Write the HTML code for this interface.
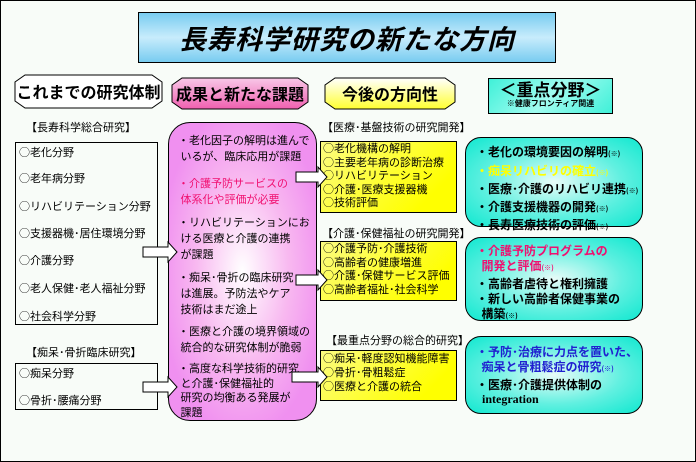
<!DOCTYPE html>
<html><head><meta charset="utf-8">
<style>
*{margin:0;padding:0;box-sizing:border-box}
body{width:696px;height:462px;background:#f8fcf8;position:relative;overflow:hidden;font-family:"Noto Sans CJK JP","Liberation Sans",sans-serif;color:#000}
.frame{position:absolute;left:0;top:0;width:696px;height:462px;border:1px solid #000}
.a{position:absolute}
.t{font-size:11px;line-height:13px;white-space:nowrap}
.title{left:138px;top:12px;width:418px;height:51px;border:1px solid #000;background:linear-gradient(180deg,#78ccf0 0%,#c8ecfc 50%,#78ccf0 100%);text-align:center;font-size:27px;line-height:50px;font-style:italic;font-weight:bold;letter-spacing:1px}
.hdr{font-size:16px;line-height:30px;text-align:center;font-weight:bold}
.lbox{border:1px solid #000;background:#f8fcf8}
.pink{left:168px;top:122px;width:149px;height:299px;border:1px solid #000;border-radius:22px;background:radial-gradient(ellipse at 50% 50%,#fff 0%,#f8b8f0 45%,#f090f0 80%)}
.yb{border:1px solid #000;background:linear-gradient(135deg,#fcfc80,#ffff00 80%)}
.tb{border:1px solid #000;border-radius:16px;background:radial-gradient(ellipse at 50% 50%,#e8fcf8 0%,#60f0e0 55%,#10e8d0 100%)}
.tb div{font-size:12px;line-height:15px;font-weight:bold;white-space:nowrap}
</style></head><body>
<div class="frame"></div>
<div class="a title">長寿科学研究の新たな方向</div>

<svg class="a" style="left:0;top:0" width="696" height="462">
<polygon points="25,75 152,75 162,82 162,101 152,108 25,108 15,101 15,82" fill="#fff" stroke="#000"/>
<defs>
<linearGradient id="pg" x1="0" y1="0" x2="0" y2="1"><stop offset="0" stop-color="#f8c8e8"/><stop offset="1" stop-color="#f060b0"/></linearGradient>
<linearGradient id="yg" x1="0" y1="0" x2="0" y2="1"><stop offset="0" stop-color="#fff"/><stop offset="1" stop-color="#ffff30"/></linearGradient>
</defs>
<polygon points="182,78 298,78 308,85 308,102 298,109 182,109 172,102 172,85" fill="url(#pg)" stroke="#000"/>
<polygon points="335,78 445,78 455,85 455,102 445,109 335,109 325,102 325,85" fill="url(#yg)" stroke="#000"/>
</svg>
<div class="a hdr" style="left:15px;top:76px;width:147px;">これまでの研究体制</div>
<div class="a hdr" style="left:172px;top:78px;width:136px;">成果と新たな課題</div>
<div class="a hdr" style="left:325px;top:78px;width:130px;">今後の方向性</div>
<div class="a" style="left:488px;top:78px;width:125px;height:36px;border:1px solid #000;background:linear-gradient(135deg,#40f0d8,#a0fcf0 50%,#40f0d8);text-align:center">
<div style="font-size:17px;line-height:20px;font-weight:bold">＜重点分野＞</div>
<div style="font-size:8px;line-height:10px;font-weight:bold">※健康フロンティア関連</div></div>

<div class="a t" style="left:26px;top:121px">【長寿科学総合研究】</div>
<div class="a lbox" style="left:15px;top:142px;width:143px;height:183px"></div>
<div class="a t" style="left:19px;top:146px">○老化分野</div>
<div class="a t" style="left:19px;top:172px">○老年病分野</div>
<div class="a t" style="left:19px;top:200px">○リハビリテーション分野</div>
<div class="a t" style="left:19px;top:227px">○支援器機･居住環境分野</div>
<div class="a t" style="left:19px;top:254px">○介護分野</div>
<div class="a t" style="left:19px;top:282px">○老人保健･老人福祉分野</div>
<div class="a t" style="left:19px;top:310px">○社会科学分野</div>
<div class="a t" style="left:26px;top:346px">【痴呆･骨折臨床研究】</div>
<div class="a lbox" style="left:15px;top:363px;width:143px;height:47px"></div>
<div class="a t" style="left:19px;top:367px">○痴呆分野</div>
<div class="a t" style="left:19px;top:394px">○骨折･腰痛分野</div>

<div class="a pink"></div>
<div class="a t" style="left:178px;top:132px;line-height:16px">・老化因子の解明は進んで<br>&nbsp;いるが、臨床応用が課題</div>
<div class="a t" style="left:178px;top:175px;line-height:16px;color:#f01070">・介護予防サービスの<br>&nbsp;体系化や評価が必要</div>
<div class="a t" style="left:178px;top:214px;line-height:16px">・リハビリテーションにお<br>&nbsp;ける医療と介護の連携<br>&nbsp;が課題</div>
<div class="a t" style="left:178px;top:269px;line-height:16px">・痴呆･骨折の臨床研究<br>&nbsp;は進展。予防法やケア<br>&nbsp;技術はまだ途上</div>
<div class="a t" style="left:178px;top:323px;line-height:16px">・医療と介護の境界領域の<br>&nbsp;統合的な研究体制が脆弱</div>
<div class="a t" style="left:178px;top:361px;line-height:14.5px">・高度な科学技術的研究<br>&nbsp;と介護･保健福祉的<br>&nbsp;研究の均衡ある発展が<br>&nbsp;課題</div>

<div class="a t" style="left:322px;top:121px">【医療･基盤技術の研究開発】</div>
<div class="a yb" style="left:320px;top:141px;width:137px;height:72px"></div>
<div class="a t" style="left:323px;top:142px;line-height:13.5px">○老化機構の解明<br>○主要老年病の診断治療<br>○リハビリテーション<br>○介護･医療支援器機<br>○技術評価</div>
<div class="a t" style="left:322px;top:227px">【介護･保健福祉の研究開発】</div>
<div class="a yb" style="left:320px;top:241px;width:137px;height:60px"></div>
<div class="a t" style="left:323px;top:242px;line-height:13.5px">○介護予防･介護技術<br>○高齢者の健康増進<br>○介護･保健サービス評価<br>○高齢者福祉･社会科学</div>
<div class="a t" style="left:326px;top:334px">【最重点分野の総合的研究】</div>
<div class="a yb" style="left:320px;top:350px;width:137px;height:51px"></div>
<div class="a t" style="left:323px;top:351px;line-height:14px">○痴呆･軽度認知機能障害<br>○骨折･骨粗鬆症<br>○医療と介護の統合</div>

<div class="a tb" style="left:465px;top:137px;width:178px;height:90px;padding:6px 0 0 10px">
<div style="line-height:15.5px">・老化の環境要因の解明<small style="font-size:7px">(※)</small></div>
<div style="color:#ffff00">・痴呆リハビリの確立<small style="font-size:7px">(※)</small></div>
<div>・医療･介護のリハビリ連携<small style="font-size:7px">(※)</small></div>
<div>・介護支援機器の開発<small style="font-size:7px">(※)</small></div>
<div>・長寿医療技術の評価<small style="font-size:7px">(※)</small></div></div>
<div class="a tb" style="left:465px;top:237px;width:178px;height:84px;padding:5px 0 0 10px">
<div style="color:#f01070">・介護予防プログラムの</div>
<div style="color:#f01070">&nbsp;&nbsp;開発と評価<small style="font-size:7px">(※)</small></div>
<div>・高齢者虐待と権利擁護</div>
<div>・新しい高齢者保健事業の</div>
<div>&nbsp;&nbsp;構築<small style="font-size:7px">(※)</small></div></div>
<div class="a tb" style="left:465px;top:336px;width:178px;height:78px;padding:7px 0 0 10px">
<div style="color:#2020d0">・予防･治療に力点を置いた、</div>
<div style="color:#2020d0">&nbsp;&nbsp;痴呆と骨粗鬆症の研究<small style="font-size:7px">(※)</small></div>
<div>・医療･介護提供体制の</div>
<div style="font-family:'Liberation Serif',serif">&nbsp;&nbsp;integration</div></div>

<svg class="a" style="left:0;top:0" width="696" height="462">
<g fill="#fff" stroke="#000" stroke-width="1">
<polygon points="143,247 168,247 168,242 177,252 168,262 168,257 143,257"/>
<polygon points="143,382 168,382 168,377 177,387 168,397 168,392 143,392"/>
<polygon points="296,172 318,172 318,167 327,177 318,187 318,182 296,182"/>
<polygon points="296,275 318,275 318,270 327,280 318,290 318,285 296,285"/>
<polygon points="292,372 318,372 318,367 327,377 318,387 318,382 292,382"/>
</g></svg>
</body></html>
